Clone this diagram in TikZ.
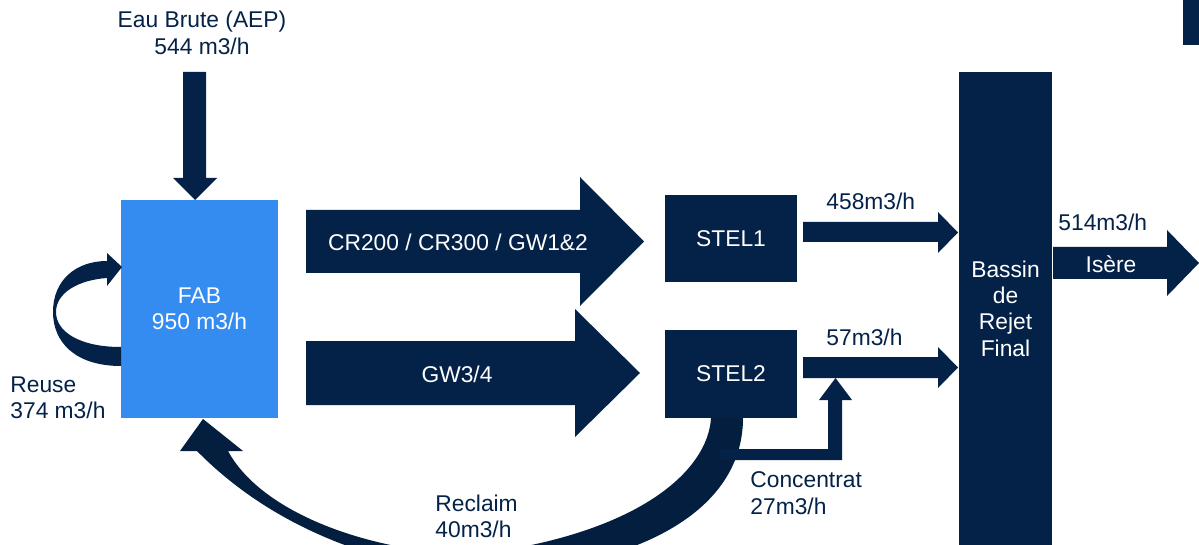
\documentclass[tikz,border=0pt]{standalone}
\usepackage{fontspec}
\setmainfont{Liberation Sans}
\definecolor{navy}{RGB}{4,34,72}
\definecolor{navydeep}{RGB}{3,30,62}
\definecolor{fabblue}{RGB}{52,139,240}
\begin{document}
\begin{tikzpicture}[x=0.5pt,y=-0.5pt,
  txt/.style={font=\fontsize{11.4}{13.2}\selectfont,inner sep=0pt},
  flow/.style={fill=navy,draw=none},
  unitbox/.style={txt,fill=navy,text=white,align=center},
  lbl/.style={txt,text=navy,align=left,anchor=west},
  inlbl/.style={txt,text=white}]
\useasboundingbox (0,0) rectangle (1199,545);
\clip (0,0) rectangle (1199,545);

% return flow from STEL2 back to FAB (drawn first, under the boxes)
\fill[navydeep] (243,451) -- (203,419) -- (180,451) -- (197,451)
  .. controls (260,515) and (350,560) .. (470,575)
  .. controls (640,570) and (743,510) .. (743,418) -- (711,418)
  .. controls (708,470) and (640,535) .. (470,555)
  .. controls (360,550) and (260,510) .. (228,451) -- cycle;

% units
\node[unitbox,fill=fabblue,minimum width=78.5pt,minimum height=109pt] (fab) at (199.5,309) {FAB\\950 m3/h};
\node[unitbox,minimum width=66pt,minimum height=43.5pt] (stel1) at (731,238.5) {STEL1};
\node[unitbox,minimum width=66pt,minimum height=44pt] (stel2) at (731,374) {STEL2};
\node[unitbox,minimum width=46.5pt,minimum height=236.5pt] (bassin) at (1005.5,308.5) {Bassin\\de\\Rejet\\Final};
\fill[navy] (1183,0) rectangle (1199,45);

% raw water inlet
\fill[navy] (183,72) -- (206,72) -- (206,178) -- (217,178) -- (195,200) -- (173,178) -- (183,178) -- cycle;
\node[txt,text=navy,align=center] (aep) at (202,33) {Eau Brute (AEP)\\544 m3/h};

% reuse loop on FAB
\fill[navy] (107,261) -- (107,253) -- (122,267) -- (107,286) -- (107,278)
  .. controls (78,280) and (56,293) .. (56,312)
  .. controls (56,332) and (80,347) .. (121,347) -- (121,366)
  .. controls (75,366) and (53,342) .. (53,312)
  .. controls (53,280) and (76,261) .. (107,261) -- cycle;
\node[lbl] (reuse) at (10,397.5) {Reuse\\374 m3/h};

% main flows FAB -> STEL
\fill[navy] (306,210) -- (580,210) -- (580,177) -- (644,241.5) -- (580,306) -- (580,273) -- (306,273) -- cycle;
\node[inlbl] (f1) at (458,242) {CR200 / CR300 / GW1\&2};
\fill[navy] (306,341) -- (575,341) -- (575,309) -- (640,373) -- (575,437) -- (575,405) -- (306,405) -- cycle;
\node[inlbl] (f2) at (457,374) {GW3/4};

% STEL -> Bassin
\fill[navy] (803,222) -- (938,222) -- (938,212) -- (958,232.5) -- (938,253) -- (938,242) -- (803,242) -- cycle;
\node[lbl] (q1) at (826,201) {458m3/h};
\fill[navy] (803,357) -- (938,357) -- (938,347) -- (958,367.5) -- (938,388) -- (938,378) -- (803,378) -- cycle;
\node[lbl] (q2) at (826,337) {57m3/h};

% concentrate return
\fill[navy] (720,449) -- (828,449) -- (828,400) -- (819,400) -- (835.5,378) -- (852,400) -- (842,400) -- (842,460) -- (720,460) -- cycle;
\node[lbl] (conc) at (750,493) {Concentrat\\27m3/h};
\node[lbl] (recl) at (435,516.5) {Reclaim\\40m3/h};

% outlet
\fill[navy] (1053,247) -- (1167,247) -- (1167,230) -- (1199,263) -- (1167,296) -- (1167,279) -- (1053,279) -- cycle;
\node[inlbl] (isere) at (1111,264) {Isère};
\node[lbl] (q3) at (1058,222) {514m3/h};
\end{tikzpicture}
\end{document}
